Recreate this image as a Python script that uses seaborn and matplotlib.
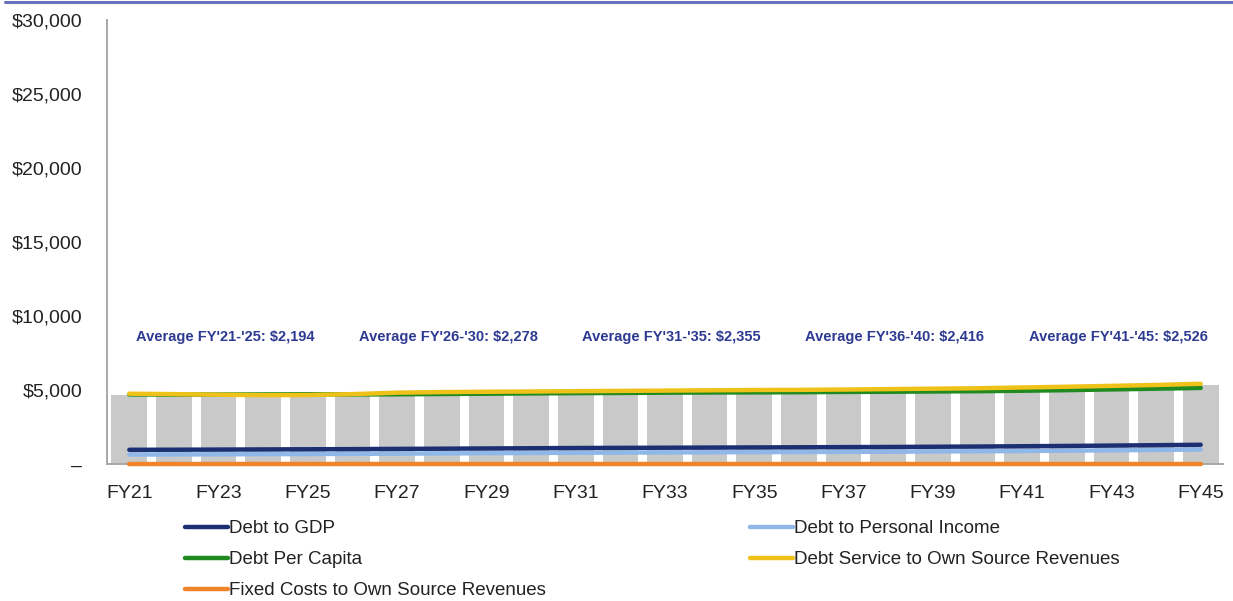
import numpy as np
import pandas as pd
import matplotlib
matplotlib.use("Agg")
import matplotlib.pyplot as plt
from matplotlib.lines import Line2D
from matplotlib.ticker import FuncFormatter, FixedLocator
import seaborn as sns

# ---------------- data ----------------
years = [f"FY{y}" for y in range(21, 46)]
bar_values = [4660, 4640, 4620, 4600, 4610, 4660, 4760, 4800, 4820, 4840, 4860, 4880,
              4900, 4920, 4940, 4950, 4970, 5000, 5030, 5060, 5110, 5160, 5220, 5280, 5340]
debt_to_gdp = [960, 965, 975, 985, 995, 1005, 1020, 1035, 1050, 1065, 1080, 1090,
               1100, 1110, 1120, 1130, 1140, 1150, 1165, 1180, 1200, 1220, 1245, 1270, 1300]
debt_to_personal_income = [640, 645, 655, 665, 675, 685, 700, 715, 730, 745, 760, 770,
                           780, 790, 800, 810, 820, 830, 845, 860, 880, 900, 925, 950, 980]
debt_per_capita = [4700, 4690, 4690, 4700, 4710, 4700, 4710, 4730, 4750, 4770, 4790, 4800,
                   4820, 4830, 4840, 4850, 4870, 4880, 4900, 4920, 4950, 4990, 5040, 5090, 5140]
debt_service = [4750, 4720, 4680, 4650, 4660, 4720, 4820, 4860, 4880, 4900, 4920, 4940,
                4960, 4980, 5000, 5010, 5030, 5060, 5090, 5120, 5170, 5220, 5280, 5340, 5420]
fixed_costs = [20] * 25
avg_labels = ["Average FY'21-'25: $2,194", "Average FY'26-'30: $2,278",
              "Average FY'31-'35: $2,355", "Average FY'36-'40: $2,416",
              "Average FY'41-'45: $2,526"]
ytick_values = [0, 5000, 10000, 15000, 20000, 25000, 30000]

# ---------------- style ----------------
sns.set_theme(style="white")
plt.rcParams["font.family"] = ["Liberation Sans", "DejaVu Sans"]

colors = {
    "Debt to GDP": "#1b2f72",
    "Debt to Personal Income": "#8fb8e8",
    "Debt Per Capita": "#1f8a1f",
    "Debt Service to Own Source Revenues": "#efc21a",
    "Fixed Costs to Own Source Revenues": "#f0842a",
}
series_values = {
    "Debt to GDP": debt_to_gdp,
    "Debt to Personal Income": debt_to_personal_income,
    "Debt Per Capita": debt_per_capita,
    "Debt Service to Own Source Revenues": debt_service,
    "Fixed Costs to Own Source Revenues": fixed_costs,
}

fig = plt.figure(figsize=(12.33, 6.01), dpi=100)
ax = fig.add_axes([107 / 1233, 1 - 464 / 601, (1223 - 107) / 1233, (464 - 20) / 601])

idx = np.arange(len(years))
bar_df = pd.DataFrame({"year": years, "value": bar_values})
sns.barplot(data=bar_df, x="year", y="value", color="#c9c9c9", saturation=1,
            width=0.8, linewidth=0, ax=ax, zorder=1)

draw_order = ["Debt to Personal Income", "Debt to GDP", "Fixed Costs to Own Source Revenues",
              "Debt Per Capita", "Debt Service to Own Source Revenues"]
handles = {}
for name in draw_order:
    df = pd.DataFrame({"i": idx, "v": series_values[name]})
    sns.lineplot(data=df, x="i", y="v", color=colors[name], linewidth=3.2,
                 ax=ax, zorder=3, label=name)
    handles[name] = Line2D([], [], color=colors[name], linewidth=3.2)
for ln in ax.get_lines():
    ln.set_clip_on(False)
if ax.get_legend() is not None:
    ax.get_legend().remove()

# annotations
for k, txt in enumerate(avg_labels):
    ax.text(2.15 + 5 * k, 8600, txt, ha="center", va="center", fontsize=10.5,
            fontweight="bold", color="#2e3a92")

# axes
ax.set_xlim(-0.5, len(years) - 0.5)
ax.set_ylim(0, 30000)
ax.set_xlabel("")
ax.set_ylabel("")
ax.set_yticks(ytick_values)
ax.yaxis.set_major_formatter(FuncFormatter(lambda v, p: "–" if v == 0 else f"${v:,.0f}"))
ax.set_xticks(idx[::2])
ax.set_xticklabels(years[::2])
ax.xaxis.set_minor_locator(FixedLocator(np.arange(-0.5, len(years), 1.0)))
ax.tick_params(axis="x", which="major", length=0, pad=15, labelsize=14, colors="#222222")
ax.tick_params(axis="x", which="minor", length=6, width=1.2, color="#a0a0a0", direction="out")
ax.tick_params(axis="y", which="major", length=6, width=1.2, color="#a0a0a0",
               direction="out", labelsize=14, labelcolor="#222222", pad=12)
for lab in ax.get_yticklabels():
    lab.set_color("#222222")
for s in ["top", "right"]:
    ax.spines[s].set_visible(False)
for s in ["left", "bottom"]:
    ax.spines[s].set_color("#a8a8a8")
    ax.spines[s].set_linewidth(1.4)
ax.grid(False)

# legends
leg_kw = dict(frameon=False, fontsize=13.5, handlelength=2.3, handletextpad=0.05,
              labelspacing=0.74, borderpad=0, borderaxespad=0, loc="upper left")
col1 = ["Debt to GDP", "Debt Per Capita", "Fixed Costs to Own Source Revenues"]
col2 = ["Debt to Personal Income", "Debt Service to Own Source Revenues"]
leg1 = fig.legend([handles[n] for n in col1], col1,
                  bbox_to_anchor=(185 / 1233, 1 - 520 / 601), **leg_kw)
leg2 = fig.legend([handles[n] for n in col2], col2,
                  bbox_to_anchor=(750 / 1233, 1 - 520 / 601), **leg_kw)
for leg in (leg1, leg2):
    for t in leg.get_texts():
        t.set_color("#222222")

# top border line
fig.add_artist(Line2D([5 / 1233, 1], [1 - 1.5 / 601, 1 - 1.5 / 601],
                      transform=fig.transFigure, color="#6a72bf", linewidth=2.2))

fig.savefig("out.png", dpi=100)
